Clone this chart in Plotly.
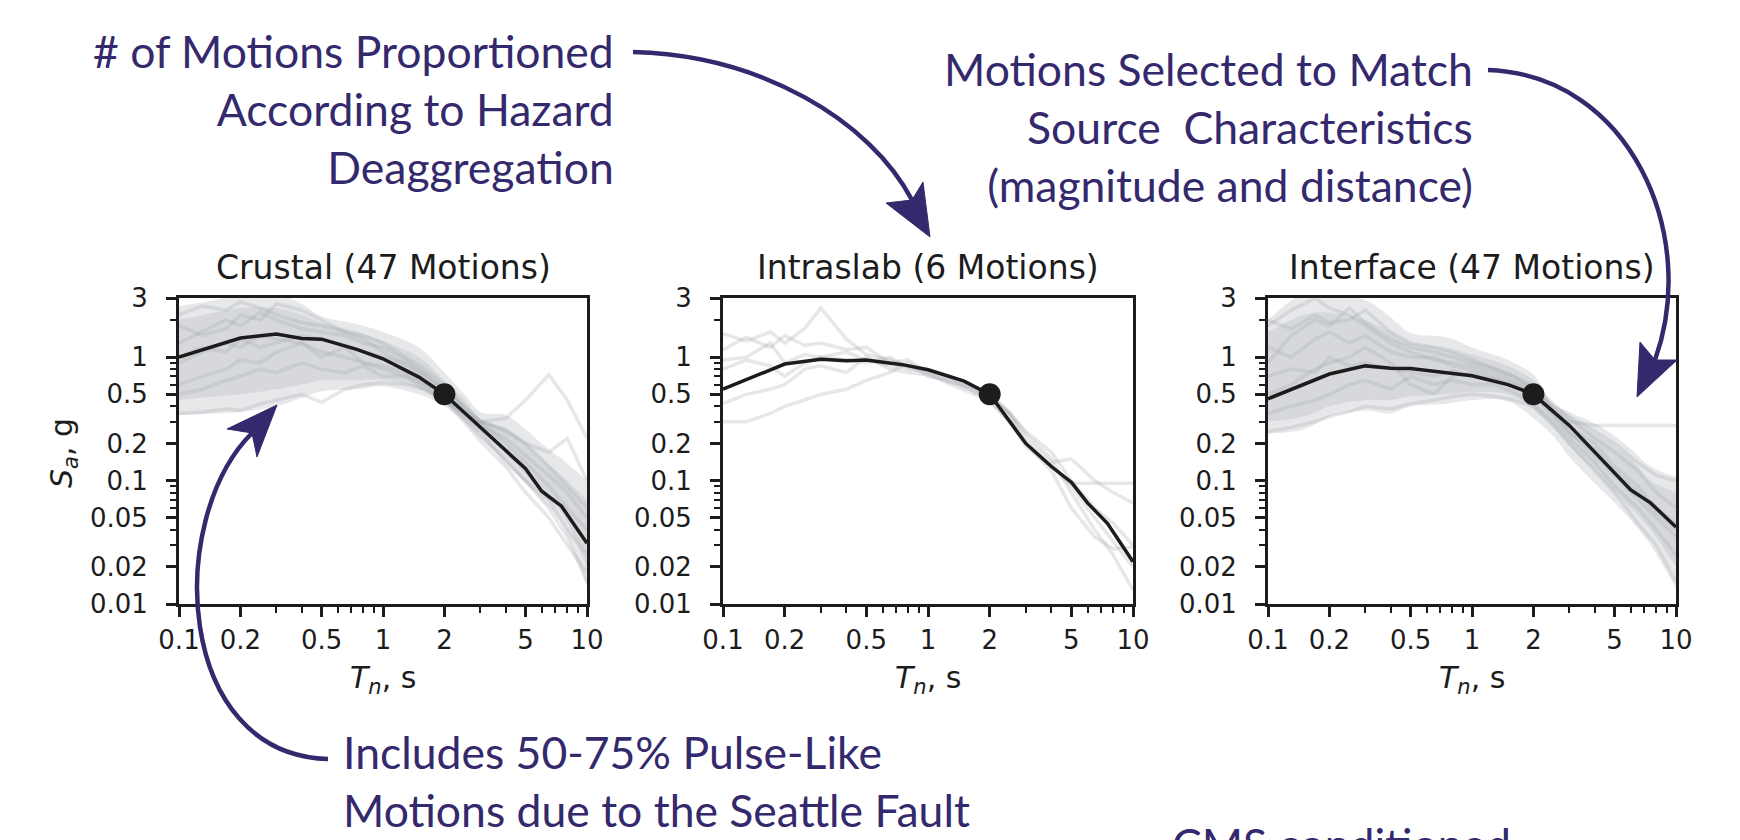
import plotly.graph_objects as go

# ---------------- data ----------------
# mean (CMS) spectra
T_MEAN = [0.1, 0.2, 0.3, 0.4, 0.5, 0.75, 1.0, 1.5, 2.0, 3.0, 4.0, 5.0, 6.0, 7.5, 10.0]
crustal_mean = [1.0, 1.43, 1.54, 1.42, 1.40, 1.15, 0.97, 0.69, 0.5, 0.27, 0.175, 0.125, 0.082, 0.062, 0.031]
intraslab_mean = [0.55, 0.88, 0.96, 0.935, 0.95, 0.87, 0.79, 0.64, 0.5, 0.2, 0.13, 0.097, 0.066, 0.045, 0.022]
interface_mean = [0.46, 0.73, 0.85, 0.815, 0.81, 0.75, 0.706, 0.6, 0.5, 0.28, 0.17, 0.115, 0.084, 0.066, 0.042]

# conditioning point
T_COND = [2.0]
SA_COND = [0.5]

# envelopes of the selected-motion clouds
T_BAND = [0.1, 0.15, 0.2, 0.3, 0.4, 0.5, 0.75, 1.0, 1.5, 2.0, 2.5, 3.0, 4.0, 5.0, 6.0, 7.5, 10.0]
crustal_outer_hi = [2.6, 2.9, 3.3, 3.3, 2.7, 2.15, 1.85, 1.6, 1.2, 0.75, 0.5, 0.36, 0.34, 0.26, 0.2, 0.15, 0.1]
crustal_outer_lo = [0.34, 0.35, 0.36, 0.40, 0.47, 0.53, 0.55, 0.58, 0.5, 0.40, 0.3, 0.22, 0.14, 0.095, 0.07, 0.045, 0.014]
crustal_inner_hi = [2.0, 2.3, 2.5, 2.5, 2.2, 1.9, 1.6, 1.35, 1.0, 0.65, 0.45, 0.32, 0.26, 0.2, 0.15, 0.11, 0.07]
crustal_inner_lo = [0.45, 0.48, 0.5, 0.55, 0.6, 0.65, 0.65, 0.66, 0.56, 0.43, 0.33, 0.25, 0.16, 0.11, 0.08, 0.055, 0.02]
interface_outer_hi = [2.0, 3.3, 3.3, 2.9, 2.1, 1.57, 1.45, 1.2, 0.95, 0.72, 0.42, 0.36, 0.29, 0.23, 0.18, 0.13, 0.107]
interface_outer_lo = [0.24, 0.26, 0.33, 0.37, 0.35, 0.40, 0.42, 0.45, 0.44, 0.32, 0.23, 0.156, 0.095, 0.066, 0.048, 0.03, 0.0134]
interface_inner_hi = [1.6, 2.2, 2.3, 2.0, 1.6, 1.3, 1.2, 1.05, 0.85, 0.65, 0.4, 0.32, 0.24, 0.19, 0.15, 0.1, 0.08]
interface_inner_lo = [0.3, 0.33, 0.4, 0.45, 0.45, 0.48, 0.5, 0.52, 0.5, 0.38, 0.27, 0.19, 0.12, 0.08, 0.06, 0.04, 0.02]

# individual motions (sampled periods)
T_REC = [0.1, 0.13, 0.17, 0.2, 0.25, 0.3, 0.4, 0.5, 0.65, 0.8, 1.0, 1.3, 1.6, 2.0, 2.5, 3.0, 4.0, 5.0, 6.5, 8.0, 10.0]
crustal_records = [
    [0.9, 1.1, 1.3, 1.2, 1.5, 1.4, 1.3, 1.1, 1.0, 0.9, 0.8, 0.7, 0.55, 0.45, 0.35, 0.3, 0.32, 0.45, 0.72, 0.45, 0.22],
    [2.2, 2.6, 2.4, 2.8, 2.5, 2.2, 1.9, 1.8, 1.6, 1.5, 1.3, 1.0, 0.8, 0.6, 0.4, 0.3, 0.25, 0.2, 0.17, 0.22, 0.1],
    [0.35, 0.36, 0.38, 0.37, 0.42, 0.45, 0.5, 0.43, 0.55, 0.6, 0.62, 0.6, 0.55, 0.45, 0.32, 0.23, 0.15, 0.1, 0.06, 0.035, 0.015],
    [1.3, 1.6, 2.0, 1.8, 2.3, 2.0, 1.7, 1.6, 1.5, 1.3, 1.2, 0.95, 0.75, 0.55, 0.4, 0.3, 0.2, 0.14, 0.09, 0.06, 0.04],
    [0.6, 0.7, 0.8, 0.95, 0.9, 1.1, 1.3, 1.0, 1.2, 0.9, 0.85, 0.75, 0.6, 0.48, 0.33, 0.25, 0.14, 0.1, 0.07, 0.04, 0.025],
    [1.8, 1.5, 1.7, 2.2, 2.0, 2.7, 2.4, 2.0, 1.6, 1.4, 1.1, 0.85, 0.7, 0.52, 0.36, 0.28, 0.22, 0.16, 0.11, 0.08, 0.05],
    [0.5, 0.55, 0.65, 0.7, 0.8, 0.75, 0.9, 0.8, 0.75, 0.85, 0.7, 0.7, 0.6, 0.45, 0.3, 0.21, 0.13, 0.08, 0.05, 0.03, 0.018],
    [1.0, 1.2, 1.1, 1.4, 1.2, 1.3, 1.5, 1.4, 1.25, 1.1, 1.0, 0.9, 0.72, 0.55, 0.38, 0.3, 0.26, 0.2, 0.13, 0.09, 0.06],
]
intraslab_records = [
    [1.55, 1.35, 1.6, 1.3, 1.7, 2.5, 1.4, 1.05, 0.95, 0.85, 0.8, 0.7, 0.6, 0.5, 0.35, 0.25, 0.17, 0.1, 0.06, 0.045, 0.03],
    [1.15, 1.45, 1.2, 1.5, 1.25, 1.3, 1.15, 1.2, 0.9, 0.95, 0.75, 0.68, 0.58, 0.48, 0.34, 0.22, 0.14, 0.15, 0.1, 0.08, 0.066],
    [0.95, 1.0, 1.3, 0.9, 1.05, 1.0, 1.1, 0.95, 0.85, 0.8, 0.78, 0.65, 0.55, 0.45, 0.3, 0.2, 0.13, 0.095, 0.095, 0.095, 0.095],
    [0.42, 0.5, 0.55, 0.6, 0.8, 0.85, 0.75, 1.0, 0.8, 0.75, 0.72, 0.62, 0.58, 0.5, 0.36, 0.24, 0.15, 0.08, 0.04, 0.025, 0.013],
    [0.3, 0.3, 0.35, 0.4, 0.45, 0.5, 0.55, 0.65, 0.75, 0.9, 0.7, 0.64, 0.55, 0.47, 0.35, 0.2, 0.12, 0.06, 0.035, 0.028, 0.029],
    [0.8, 0.95, 0.85, 0.7, 0.9, 1.0, 0.95, 0.9, 1.0, 0.82, 0.74, 0.6, 0.52, 0.44, 0.3, 0.19, 0.13, 0.09, 0.05, 0.032, 0.02],
]
interface_records = [
    [0.9, 1.5, 2.0, 1.8, 2.5, 1.9, 1.4, 1.2, 1.1, 1.0, 0.9, 0.8, 0.7, 0.55, 0.38, 0.3, 0.28, 0.28, 0.28, 0.28, 0.28],
    [0.25, 0.27, 0.3, 0.33, 0.36, 0.4, 0.38, 0.42, 0.45, 0.48, 0.5, 0.48, 0.45, 0.4, 0.28, 0.2, 0.12, 0.08, 0.045, 0.03, 0.015],
    [1.8, 2.4, 3.0, 2.5, 2.2, 1.8, 1.3, 1.1, 0.95, 0.9, 0.85, 0.75, 0.65, 0.55, 0.4, 0.33, 0.25, 0.2, 0.14, 0.11, 0.1],
    [0.5, 0.6, 0.8, 0.9, 1.0, 1.2, 0.9, 0.6, 0.5, 0.7, 0.75, 0.65, 0.6, 0.5, 0.35, 0.25, 0.16, 0.11, 0.07, 0.05, 0.035],
    [1.2, 1.0, 1.4, 1.6, 1.3, 1.5, 1.1, 1.0, 1.0, 0.85, 0.8, 0.7, 0.62, 0.52, 0.36, 0.27, 0.2, 0.13, 0.09, 0.06, 0.045],
    [0.35, 0.4, 0.45, 0.5, 0.6, 0.65, 0.55, 0.7, 0.6, 0.65, 0.6, 0.6, 0.52, 0.42, 0.3, 0.22, 0.14, 0.09, 0.06, 0.04, 0.025],
    [2.0, 1.7, 2.2, 1.9, 2.0, 2.4, 1.6, 1.3, 1.2, 1.1, 0.95, 0.8, 0.7, 0.58, 0.42, 0.32, 0.22, 0.17, 0.12, 0.08, 0.06],
    [0.7, 0.8, 0.75, 1.0, 0.85, 0.9, 0.8, 0.75, 0.7, 0.78, 0.7, 0.66, 0.58, 0.5, 0.33, 0.24, 0.18, 0.12, 0.08, 0.055, 0.04],
]

panel_titles = ["Crustal (47 Motions)", "Intraslab (6 Motions)", "Interface (47 Motions)"]

# axis ticks
x_tickvals = [0.1, 0.2, 0.5, 1, 2, 5, 10]
x_ticktext = ["0.1", "0.2", "0.5", "1", "2", "5", "10"]
x_minor = [0.3, 0.4, 0.6, 0.7, 0.8, 0.9, 3, 4, 6, 7, 8, 9]
y_tickvals = [0.01, 0.02, 0.05, 0.1, 0.2, 0.5, 1, 3]
y_ticktext = ["0.01", "0.02", "0.05", "0.1", "0.2", "0.5", "1", "3"]
y_minor = [0.03, 0.04, 0.06, 0.07, 0.08, 0.09, 0.3, 0.4, 0.6, 0.7, 0.8, 0.9, 2]

# ---------------- styling ----------------
W, H = 1740, 840
OFF = 8  # page body margin of the html output
PURPLE = "#34296d"
INK = "#1c1c1c"
OUTER = "#e6e8e9"
INNER = "#d6d8db"
REC = "rgba(165,170,176,0.28)"

panels_px = [(179, 587), (723, 1133), (1268, 1676)]
y_top_px, y_bot_px = 298.3, 604


def px(x):
    return (x - OFF) / W


def py(y):
    return 1 - (y - OFF) / H


fig = go.Figure()

panels = [
    (crustal_mean, (crustal_outer_lo, crustal_outer_hi), (crustal_inner_lo, crustal_inner_hi), crustal_records),
    (intraslab_mean, None, None, intraslab_records),
    (interface_mean, (interface_outer_lo, interface_outer_hi), (interface_inner_lo, interface_inner_hi), interface_records),
]

for i, (mean, outer, inner, recs) in enumerate(panels):
    sfx = "" if i == 0 else str(i + 1)
    xa, ya = "x" + sfx, "y" + sfx
    for band, col in ((outer, OUTER), (inner, INNER)):
        if band is None:
            continue
        lo, hi = band
        fig.add_trace(go.Scatter(x=T_BAND, y=lo, mode="lines", line=dict(width=0, color=col, shape="spline"),
                                 xaxis=xa, yaxis=ya, showlegend=False, hoverinfo="skip"))
        fig.add_trace(go.Scatter(x=T_BAND, y=hi, mode="lines", line=dict(width=0, color=col, shape="spline"),
                                 fill="tonexty", fillcolor=col,
                                 xaxis=xa, yaxis=ya, showlegend=False, hoverinfo="skip"))
    for r in recs:
        fig.add_trace(go.Scatter(x=T_REC, y=r, mode="lines", line=dict(width=3.5, color=REC),
                                 xaxis=xa, yaxis=ya, showlegend=False, hoverinfo="skip"))
    fig.add_trace(go.Scatter(x=T_MEAN, y=mean, mode="lines", line=dict(width=3.5, color=INK),
                             xaxis=xa, yaxis=ya, showlegend=False))
    fig.add_trace(go.Scatter(x=T_COND, y=SA_COND, mode="markers", marker=dict(size=22, color=INK),
                             xaxis=xa, yaxis=ya, showlegend=False))

tickfont = dict(family="DejaVu Sans", size=26, color=INK)
layout = dict(
    width=W, height=H, margin=dict(l=0, r=0, t=0, b=0, autoexpand=False),
    paper_bgcolor="white", plot_bgcolor="white", showlegend=False,
)
for i, (x0, x1) in enumerate(panels_px):
    sfx = "" if i == 0 else str(i + 1)
    layout["xaxis" + sfx] = dict(
        type="log", range=[-1, 1], domain=[px(x0), px(x1)], anchor="y" + sfx, automargin=False,
        showgrid=False, zeroline=False, showline=True, mirror=True, linecolor=INK, linewidth=3,
        ticks="outside", ticklen=10, tickwidth=2.5, tickcolor=INK,
        tickmode="array", tickvals=x_tickvals, ticktext=x_ticktext, tickfont=tickfont,
        ticklabelstandoff=1,
        minor=dict(tickmode="array", tickvals=x_minor, ticks="outside", ticklen=6, tickwidth=2, tickcolor=INK, showgrid=False),
    )
    layout["yaxis" + sfx] = dict(
        type="log", range=[-2, 0.47712], domain=[py(y_bot_px), py(y_top_px)], anchor="x" + sfx, automargin=False,
        showgrid=False, zeroline=False, showline=True, mirror=True, linecolor=INK, linewidth=3,
        ticks="outside", ticklen=10, tickwidth=2.5, tickcolor=INK,
        tickmode="array", tickvals=y_tickvals, ticktext=y_ticktext, tickfont=tickfont,
        ticklabelstandoff=13,
        minor=dict(tickmode="array", tickvals=y_minor, ticks="outside", ticklen=6, tickwidth=2, tickcolor=INK, showgrid=False),
    )
fig.update_layout(**layout)

annotations = []
for i, (x0, x1) in enumerate(panels_px):
    cx = (x0 + x1) / 2
    annotations.append(dict(text=panel_titles[i], x=px(cx), y=py(267), xref="paper", yref="paper",
                            xanchor="center", yanchor="middle", showarrow=False,
                            font=dict(family="DejaVu Sans", size=33, color=INK)))
    annotations.append(dict(text="<i>T</i><sub><i>n</i></sub>, s", x=px(cx), y=py(679), xref="paper", yref="paper",
                            xanchor="center", yanchor="middle", showarrow=False,
                            font=dict(family="DejaVu Sans", size=30, color=INK)))
annotations.append(dict(text="<i>S</i><sub><i>a</i></sub>, g", x=px(63), y=py(453), xref="paper", yref="paper",
                        xanchor="center", yanchor="middle", showarrow=False, textangle=-90,
                        font=dict(family="DejaVu Sans", size=30, color=INK)))

AFONT = dict(family="Lato", size=44.5, color=PURPLE)
annotations += [
    dict(text="# of Motions Proportioned<br>According to Hazard<br>Deaggregation", x=px(616), y=py(108),
         xref="paper", yref="paper", xanchor="right", yanchor="middle", align="right", showarrow=False, font=AFONT),
    dict(text="Motions Selected to Match<br>Source\u00a0 Characteristics<br>(magnitude and distance)", x=px(1475), y=py(127),
         xref="paper", yref="paper", xanchor="right", yanchor="middle", align="right", showarrow=False, font=AFONT),
    dict(text="Includes 50-75% Pulse-Like<br>Motions due to the Seattle Fault", x=px(341), y=py(780),
         xref="paper", yref="paper", xanchor="left", yanchor="middle", align="left", showarrow=False, font=AFONT),
    dict(text="CMS conditioned", x=px(1170), y=py(843),
         xref="paper", yref="paper", xanchor="left", yanchor="middle", align="left", showarrow=False, font=AFONT),
]
fig.update_layout(annotations=annotations)


def P(x, y):
    return f"{px(x):.5f},{py(y):.5f}"


curves = [
    ((633, 52), (760, 55), (870, 120), (912, 200)),
    ((1488, 70), (1630, 75), (1700, 235), (1655, 360)),
    ((328, 759), (175, 755), (165, 520), (252, 433)),
]
heads = [
    ((930, 237), (886, 203), (912, 200), (923, 182)),
    ((1637, 397), (1640, 342), (1655, 360), (1677, 360)),
    ((277, 405), (227, 429), (252, 433), (257, 457)),
]
shapes = []
for (a, b, c, d) in curves:
    shapes.append(dict(type="path", xref="paper", yref="paper", layer="above",
                       path=f"M {P(*a)} C {P(*b)} {P(*c)} {P(*d)}",
                       line=dict(color=PURPLE, width=4.5)))
for (t, b1, n, b2) in heads:
    shapes.append(dict(type="path", xref="paper", yref="paper", layer="above",
                       path=f"M {P(*t)} L {P(*b1)} L {P(*n)} L {P(*b2)} Z",
                       fillcolor=PURPLE, line=dict(color=PURPLE, width=1)))
fig.update_layout(shapes=shapes)

fig.write_html("out.html")
